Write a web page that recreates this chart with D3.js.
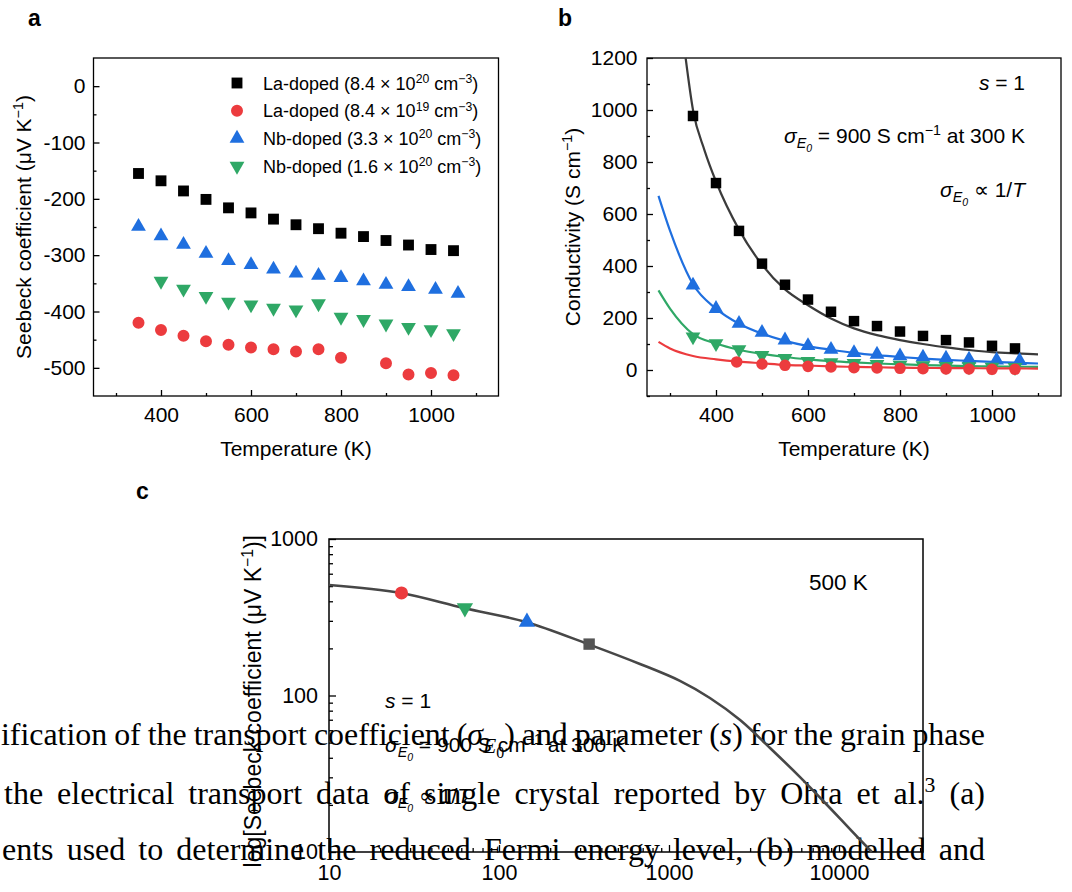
<!DOCTYPE html>
<html>
<head>
<meta charset="utf-8">
<script src="https://cdn.jsdelivr.net/npm/d3@7"></script>
<style>
  body { margin: 0; background: #fff; }
  svg { display: block; }
</style>
</head>
<body>
<svg id="fig" width="1072" height="892"></svg>
<script>
// ---- panel a: Seebeck coefficient (uV/K) vs temperature (K) ----
const tA_La20 = [350, 400, 450, 500, 550, 600, 650, 700, 750, 800, 850, 900, 950, 1000, 1050];
const sA_La20 = [-155, -168, -186, -201, -216, -225, -236, -246, -253, -261, -267, -274, -282, -290, -292];
const tA_La19 = [350, 400, 450, 500, 550, 600, 650, 700, 750, 800, 900, 950, 1000, 1050];
const sA_La19 = [-420, -433, -443, -453, -459, -464, -467, -471, -467, -482, -492, -512, -509, -513];
const tA_Nb33 = [350, 400, 450, 500, 550, 600, 650, 700, 750, 800, 850, 900, 950, 1010, 1060];
const sA_Nb33 = [-249, -266, -281, -297, -310, -317, -325, -332, -336, -340, -346, -352, -356, -361, -368];
const tA_Nb16 = [400, 450, 500, 550, 600, 650, 700, 750, 800, 850, 900, 950, 1000, 1050];
const sA_Nb16 = [-346, -360, -373, -383, -388, -394, -397, -386, -410, -414, -422, -428, -432, -439];

// ---- panel b: conductivity (S/cm) vs temperature, measured points ----
const tB_La20 = [350, 400, 450, 500, 550, 600, 650, 700, 750, 800, 850, 900, 950, 1000, 1050];
const cB_La20 = [977, 719, 535, 409, 328, 271, 224, 188, 169, 148, 131, 115, 106, 93, 83];
const tB_La19 = [445, 500, 550, 600, 650, 700, 750, 800, 850, 900, 950, 1000, 1050];
const cB_La19 = [31, 23, 18, 14, 11.5, 9, 7.7, 6.4, 5, 3.8, 3.8, 2.6, 2.6];
const tB_Nb33 = [350, 400, 450, 500, 550, 600, 650, 700, 750, 800, 850, 900, 950, 1010, 1060];
const cB_Nb33 = [326, 236, 179, 144, 115, 93, 79, 66, 60, 54, 49, 45, 41, 38, 36];
const tB_Nb16 = [350, 400, 450, 500, 550, 600, 650, 700, 750, 800, 850, 900, 950, 1000, 1050];
const cB_Nb16 = [128, 102, 79, 57, 45, 34, 29, 26, 22, 19, 17, 14, 13, 11.5, 10];

// panel b model curves
const fitT_La20 = [334, 350, 375, 400, 450, 500, 550, 600, 650, 700, 750, 800, 850, 900, 950, 1000, 1050, 1100];
const fit_La20 = [1200, 1000, 845, 725, 540, 405, 310, 249, 198, 160, 134, 115, 100, 87, 77, 69, 64, 60];
const fitT = [275, 300, 350, 400, 450, 500, 550, 600, 650, 700, 750, 800, 850, 900, 950, 1000, 1050, 1100];
const fit_Nb33 = [670, 536, 330, 236, 178, 140, 112, 92, 78, 66, 57, 50, 44, 39, 35, 31, 28, 25];
const fit_Nb16 = [306, 236, 138, 102, 78, 62, 50, 41, 34, 29, 25, 22, 19, 17, 15, 14, 13, 12];
const fit_La19 = [108, 83, 54, 41, 32, 26, 20, 17, 14, 12, 10.5, 9, 8, 7.5, 7, 6.5, 6, 5.5];

// ---- panel c: Seebeck vs sigma_E0 (log-log) at 500 K ----
const curveC_x = [10, 26.5, 62, 144, 334, 675, 1160, 1740, 2620, 3930, 5900, 8850, 11600, 15600];
const curveC_y = [508, 452, 362, 295, 213, 159, 124, 96.4, 69.7, 46.2, 30.1, 19.1, 14.0, 10];
const markC_x = [26.7, 63, 146, 339];
const markC_y = [452, 362, 295, 213];

// legend / tick labels
const legendName = ["La-doped", "La-doped", "Nb-doped", "Nb-doped"];
const legendConc = ["8.4", "8.4", "3.3", "1.6"];
const legendExp = ["20", "19", "20", "20"];
const ticksA_y = [-500, -400, -300, -200, -100, 0];
const minorA_y = [-450, -350, -250, -150, -50];
const ticksT = [400, 600, 800, 1000];
const minorT = [300, 500, 700, 900, 1100];
const ticksB_y = [0, 200, 400, 600, 800, 1000, 1200];
const minorB_y = [-100, 100, 300, 500, 700, 900, 1100];
const ticksC_x = [10, 100, 1000, 10000];
const ticksC_y = [10, 100, 1000];

const SANS = "'Liberation Sans', Arial, Helvetica, sans-serif";
const SERIF = "'Liberation Serif', 'Times New Roman', serif";
const col = { La20: "#000000", La19: "#ec3b3e", Nb33: "#1f6fdf", Nb16: "#2fa866" };

const svg = d3.select("#fig");

// text with super/subscripts: parts are strings or {t, sup, sub, sub2, it}
function rich(text, parts, size) {
  let shift = 0;
  parts.forEach(p => {
    if (typeof p === "string") p = { t: p };
    const ts = text.append("tspan").text(p.t);
    const target = p.sup ? -0.36 * size : p.sub ? 0.25 * size : p.sub2 ? 0.42 * size : 0;
    if (target !== shift) { ts.attr("dy", target - shift); shift = target; }
    if (p.sup || p.sub) ts.attr("font-size", size * 0.68);
    if (p.sub2) ts.attr("font-size", size * 0.5);
    if (p.it) ts.attr("font-style", "italic");
  });
  return text;
}

function styleAxis(g, size) {
  g.select(".domain").remove();
  g.attr("font-family", SANS).attr("font-size", size);
  g.selectAll("line").attr("stroke", "#000").attr("stroke-width", 1.3);
  g.selectAll("text").attr("fill", "#000");
}

function marks(g, xs, ys, x, y, kind, color, area) {
  const type = kind === "square" ? d3.symbolSquare : kind === "circle" ? d3.symbolCircle : d3.symbolTriangle;
  g.append("g").selectAll("path").data(d3.zip(xs, ys)).join("path")
    .attr("d", d3.symbol().type(type).size(area)())
    .attr("transform", d => `translate(${x(d[0])},${y(d[1])})` + (kind === "down" ? " rotate(180)" : ""))
    .attr("fill", color);
}

function panelLabel(ch, x, y) {
  svg.append("text").attr("x", x).attr("y", y).text(ch)
    .attr("font-family", SANS).attr("font-weight", "bold").attr("font-size", 23);
}

// ---- caption text of the page behind the figure ----
const CAP = 32;
const captionLines = [
  { x0: 1, x1: 985, y: 745, words: [["ification"], ["of"], ["the"], ["transport"], ["coefficient"],
      ["(", { t: "σ", it: true }, { t: "E", sub: true, it: true }, { t: "0", sub2: true }, ")"],
      ["and"], ["parameter"], ["(", { t: "s", it: true }, ")"], ["for"], ["the"], ["grain"], ["phase"]] },
  { x0: 4, x1: 985, y: 804, words: [["the"], ["electrical"], ["transport"], ["data"], ["of"], ["single"],
      ["crystal"], ["reported"], ["by"], ["Ohta"], ["et"], ["al.", { t: "3", sup: true }], ["(a)"]] },
  { x0: 2, x1: 985, y: 860, words: [["ents"], ["used"], ["to"], ["determine"], ["the"], ["reduced"],
      ["Fermi"], ["energy"], ["level,"], ["(b)"], ["modelled"], ["and"]] }
];
const capG = svg.append("g").attr("font-family", SERIF).attr("font-size", CAP).attr("fill", "#000");
captionLines.forEach(line => {
  const nodes = line.words.map(w => rich(capG.append("text").attr("y", line.y), w, CAP));
  const widths = nodes.map(t => t.node().getComputedTextLength());
  const gap = Math.max(0.22 * CAP, (line.x1 - line.x0 - d3.sum(widths)) / (nodes.length - 1));
  // squeeze horizontally if the words do not fit with a normal gap
  const natural = d3.sum(widths) + gap * (nodes.length - 1);
  const k = Math.min(1, (line.x1 - line.x0) / natural);
  let x = line.x0;
  nodes.forEach((t, i) => {
    t.attr("transform", `translate(${x},0) scale(${k},1)`).attr("x", 0);
    x += (widths[i] + gap) * k;
  });
});

// ================= panel a =================
{
  const x = d3.scaleLinear().domain([250, 1150]).range([93.5, 498.5]);
  const y = d3.scaleLinear().domain([-550, 50]).range([396, 58]);
  const g = svg.append("g");
  g.append("rect").attr("x", x.range()[0]).attr("y", y.range()[1])
    .attr("width", x.range()[1] - x.range()[0]).attr("height", y.range()[0] - y.range()[1])
    .attr("fill", "none").attr("stroke", "#000").attr("stroke-width", 1.3);
  g.append("g").attr("transform", `translate(${x.range()[0]},0)`)
    .call(d3.axisLeft(y).tickValues(ticksA_y).tickSize(-6).tickPadding(8).tickFormat(d => String(d)))
    .call(styleAxis, 21);
  g.append("g").attr("transform", `translate(${x.range()[0]},0)`)
    .call(d3.axisLeft(y).tickValues(minorA_y).tickSize(-3).tickFormat("")).call(styleAxis, 21);
  g.append("g").attr("transform", `translate(0,${y.range()[0]})`)
    .call(d3.axisBottom(x).tickValues(ticksT).tickSize(-6).tickPadding(11).tickFormat(d => String(d)))
    .call(styleAxis, 21);
  g.append("g").attr("transform", `translate(0,${y.range()[0]})`)
    .call(d3.axisBottom(x).tickValues(minorT).tickSize(-3).tickFormat("")).call(styleAxis, 21);

  marks(g, tA_La20, sA_La20, x, y, "square", col.La20, 118);
  marks(g, tA_La19, sA_La19, x, y, "circle", col.La19, 113);
  marks(g, tA_Nb33, sA_Nb33, x, y, "up", col.Nb33, 95);
  marks(g, tA_Nb16, sA_Nb16, x, y, "down", col.Nb16, 95);

  // legend
  const kinds = ["square", "circle", "up", "down"];
  const colors = [col.La20, col.La19, col.Nb33, col.Nb16];
  legendName.forEach((name, i) => {
    const cy = 83 + i * 27.7;
    const type = kinds[i] === "square" ? d3.symbolSquare : kinds[i] === "circle" ? d3.symbolCircle : d3.symbolTriangle;
    g.append("path").attr("d", d3.symbol().type(type).size(kinds[i] === "square" ? 118 : kinds[i] === "circle" ? 113 : 95)())
      .attr("transform", `translate(237,${cy})` + (kinds[i] === "down" ? " rotate(180)" : ""))
      .attr("fill", colors[i]);
    rich(g.append("text").attr("x", 263).attr("y", cy + 6.5).attr("font-family", SANS).attr("font-size", 18),
      [`${name} (${legendConc[i]} × 10`, { t: legendExp[i], sup: true }, " cm", { t: "−3", sup: true }, ")"], 18);
  });

  rich(g.append("text").attr("x", 296).attr("y", 456).attr("text-anchor", "middle")
    .attr("font-family", SANS).attr("font-size", 21), ["Temperature (K)"], 21);
  rich(g.append("text").attr("transform", "translate(31,227) rotate(-90)").attr("text-anchor", "middle")
    .attr("font-family", SANS).attr("font-size", 21),
    ["Seebeck coefficient (μV K", { t: "−1", sup: true }, ")"], 21);
  panelLabel("a", 28, 26);
}

// ================= panel b =================
{
  const x = d3.scaleLinear().domain([250, 1150]).range([647, 1061]);
  const y = d3.scaleLinear().domain([-100, 1200]).range([396, 58]);
  const g = svg.append("g");
  g.append("rect").attr("x", x.range()[0]).attr("y", y.range()[1])
    .attr("width", x.range()[1] - x.range()[0]).attr("height", y.range()[0] - y.range()[1])
    .attr("fill", "none").attr("stroke", "#000").attr("stroke-width", 1.3);
  g.append("g").attr("transform", `translate(${x.range()[0]},0)`)
    .call(d3.axisLeft(y).tickValues(ticksB_y).tickSize(-6).tickPadding(9.5).tickFormat(d => String(d)))
    .call(styleAxis, 21);
  g.append("g").attr("transform", `translate(${x.range()[0]},0)`)
    .call(d3.axisLeft(y).tickValues(minorB_y).tickSize(-3).tickFormat("")).call(styleAxis, 21);
  g.append("g").attr("transform", `translate(0,${y.range()[0]})`)
    .call(d3.axisBottom(x).tickValues(ticksT).tickSize(-6).tickPadding(11).tickFormat(d => String(d)))
    .call(styleAxis, 21);
  g.append("g").attr("transform", `translate(0,${y.range()[0]})`)
    .call(d3.axisBottom(x).tickValues(minorT).tickSize(-3).tickFormat("")).call(styleAxis, 21);

  const line = d3.line().x(d => x(d[0])).y(d => y(d[1])).curve(d3.curveMonotoneX);
  const fits = [
    [fitT_La20, fit_La20, "#3b3b3b"],
    [fitT, fit_Nb33, col.Nb33],
    [fitT, fit_Nb16, col.Nb16],
    [fitT, fit_La19, col.La19]
  ];
  fits.forEach(([ts, vs, c]) => g.append("path").attr("d", line(d3.zip(ts, vs)))
    .attr("fill", "none").attr("stroke", c).attr("stroke-width", 2.2));

  marks(g, tB_La20, cB_La20, x, y, "square", col.La20, 110);
  marks(g, tB_Nb33, cB_Nb33, x, y, "up", col.Nb33, 95);
  marks(g, tB_Nb16, cB_Nb16, x, y, "down", col.Nb16, 95);
  marks(g, tB_La19, cB_La19, x, y, "circle", col.La19, 105);

  const ann = (yy, parts) => rich(g.append("text").attr("x", 1025).attr("y", yy).attr("text-anchor", "end")
    .attr("font-family", SANS).attr("font-size", 21), parts, 21);
  ann(90, [{ t: "s", it: true }, " = 1"]);
  ann(143, [{ t: "σ", it: true }, { t: "E", sub: true, it: true }, { t: "0", sub2: true, it: true },
    " = 900 S cm", { t: "−1", sup: true }, " at 300 K"]);
  ann(197, [{ t: "σ", it: true }, { t: "E", sub: true, it: true }, { t: "0", sub2: true, it: true },
    " ∝ 1/", { t: "T", it: true }]);

  rich(g.append("text").attr("x", 854).attr("y", 456).attr("text-anchor", "middle")
    .attr("font-family", SANS).attr("font-size", 21), ["Temperature (K)"], 21);
  rich(g.append("text").attr("transform", "translate(580,227) rotate(-90)").attr("text-anchor", "middle")
    .attr("font-family", SANS).attr("font-size", 21),
    ["Conductivity (S cm", { t: "−1", sup: true }, ")"], 21);
  panelLabel("b", 558, 26);
}

// ================= panel c =================
{
  const x = d3.scaleLog().domain([10, 31200]).range([329, 923]);
  const y = d3.scaleLog().domain([10, 1000]).range([852, 539]);
  const g = svg.append("g");
  g.append("rect").attr("x", x.range()[0]).attr("y", y.range()[1])
    .attr("width", x.range()[1] - x.range()[0]).attr("height", y.range()[0] - y.range()[1])
    .attr("fill", "none").attr("stroke", "#000").attr("stroke-width", 1.5);

  const minorX = [], minorY = [];
  [10, 100, 1000, 10000].forEach(d => d3.range(2, 10).forEach(k => { if (d * k <= 31200) minorX.push(d * k); }));
  [10, 100].forEach(d => d3.range(2, 10).forEach(k => minorY.push(d * k)));

  g.append("g").attr("transform", `translate(${x.range()[0]},0)`)
    .call(d3.axisLeft(y).tickValues(ticksC_y).tickSize(-7).tickPadding(11).tickFormat(d => String(d)))
    .call(styleAxis, 21.5);
  g.append("g").attr("transform", `translate(${x.range()[0]},0)`)
    .call(d3.axisLeft(y).tickValues(minorY).tickSize(-4).tickFormat("")).call(styleAxis, 21.5);
  g.append("g").attr("transform", `translate(0,${y.range()[0]})`)
    .call(d3.axisBottom(x).tickValues(ticksC_x).tickSize(-7).tickPadding(13).tickFormat(d => String(d)))
    .call(styleAxis, 21.5);
  g.append("g").attr("transform", `translate(0,${y.range()[0]})`)
    .call(d3.axisBottom(x).tickValues(minorX).tickSize(-4).tickFormat("")).call(styleAxis, 21.5);

  const line = d3.line().x(d => x(d[0])).y(d => y(d[1])).curve(d3.curveCatmullRom.alpha(0.5));
  g.append("path").attr("d", line(d3.zip(curveC_x, curveC_y)))
    .attr("fill", "none").attr("stroke", "#474747").attr("stroke-width", 2.6);

  marks(g, [markC_x[0]], [markC_y[0]], x, y, "circle", col.La19, 135);
  marks(g, [markC_x[1]], [markC_y[1]], x, y, "down", col.Nb16, 115);
  marks(g, [markC_x[2]], [markC_y[2]], x, y, "up", col.Nb33, 115);
  marks(g, [markC_x[3]], [markC_y[3]], x, y, "square", "#555555", 130);

  const ann = (xx, yy, parts, size) => rich(g.append("text").attr("x", xx).attr("y", yy)
    .attr("font-family", SANS).attr("font-size", size), parts, size);
  ann(809, 590, ["500 K"], 22.5);
  ann(385, 708, [{ t: "s", it: true }, " = 1"], 21);
  ann(385, 752, [{ t: "σ", it: true }, { t: "E", sub: true, it: true }, { t: "0", sub2: true, it: true },
    " = 900 S cm", { t: "−1", sup: true }, " at 300 K"], 21);
  ann(385, 803, [{ t: "σ", it: true }, { t: "E", sub: true, it: true }, { t: "0", sub2: true, it: true },
    " ∝ 1/", { t: "T", it: true }], 21);

  rich(g.append("text").attr("transform", "translate(261,535) rotate(-90)").attr("text-anchor", "end")
    .attr("font-family", SANS).attr("font-size", 23),
    ["log[Seebeck coefficient (μV K", { t: "−1", sup: true }, ")]"], 23);
  panelLabel("c", 136, 499);
}
</script>
</body>
</html>
